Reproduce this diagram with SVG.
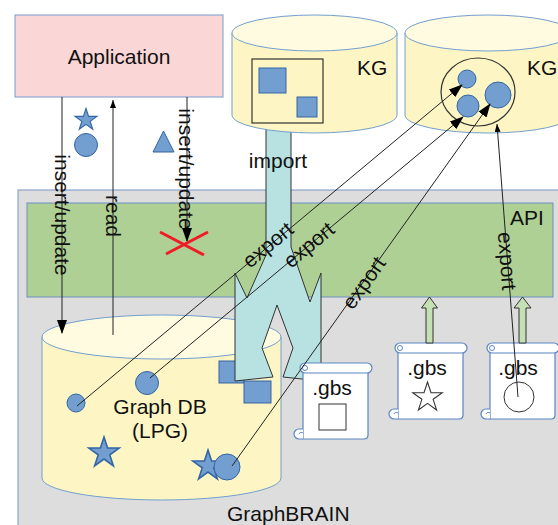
<svg xmlns="http://www.w3.org/2000/svg" width="558" height="525" viewBox="0 0 558 525">
<style>
text{font-family:"Liberation Sans",Arial,sans-serif;font-size:21px;fill:#111}
.blue{fill:#729fcf;stroke:#3465a4;stroke-width:1}
.cylb{fill:#fdf6c4;stroke:#729fcf;stroke-width:1}
.cylt{fill:#fffbe0;stroke:#729fcf;stroke-width:1}
.ln{stroke:#222;stroke-width:1;fill:none}
.scr{fill:#fff;stroke:#5a86c2;stroke-width:1.2}
.garr{fill:#c5e0b4;stroke:#333;stroke-width:1}
.outl{fill:none;stroke:#333;stroke-width:1.2}
</style>
<defs>
<marker id="ah" viewBox="0 0 14 10" markerWidth="14" markerHeight="10" refX="13" refY="5" orient="auto" markerUnits="userSpaceOnUse"><path d="M0,0 L14,5 L0,10 Z" fill="#000"/></marker>
<marker id="ahs" viewBox="0 0 8 6" markerWidth="8" markerHeight="6" refX="8" refY="3" orient="auto" markerUnits="userSpaceOnUse"><path d="M0,0 L8,3 L0,6 Z" fill="#000"/></marker>
<path id="star" d="M0,-10 L2.245,-3.09 L9.51,-3.09 L3.63,1.18 L5.88,8.09 L0,3.82 L-5.88,8.09 L-3.63,1.18 L-9.51,-3.09 L-2.245,-3.09 Z"/>
<g id="scroll">
<path class="scr" d="M10,6 V76 H71 Q75,76 75,72 V8 Z"/>
<rect class="scr" x="7" y="0" width="72" height="10" rx="5"/>
<circle cx="12" cy="5" r="2.5" fill="none" stroke="#5a86c2" stroke-width="1"/>
<path class="scr" d="M10,66 H6 A5,5 0 0 0 6,76 H10"/>
<path d="M6,71 A2.5,2.5 0 0 1 10,70" fill="none" stroke="#5a86c2" stroke-width="1"/>
</g>
</defs>

<g id="graphbrain">
<rect x="18" y="190" width="560" height="350" fill="#dddddd" stroke="#7896c8" stroke-width="1"/>
<text x="227" y="521">GraphBRAIN</text>
</g>

<g id="api">
<rect x="27" y="203" width="526" height="94" fill="#afd095" stroke="#6f8fc4" stroke-width="1"/>
<text x="510" y="225">API</text>
</g>

<g id="application">
<rect x="15" y="15" width="208" height="82" fill="#fad6d6" stroke="#729fcf" stroke-width="1"/>
<text x="119" y="64" text-anchor="middle">Application</text>
</g>

<g id="app-items">
<use href="#star" class="blue" transform="translate(86,120) scale(1.15)" stroke-width="0.9"/>
<circle class="blue" cx="86" cy="145" r="11.5"/>
<path class="blue" d="M153,152 L174,152 L163.5,131 Z"/>
</g>

<g id="graphdb">
<path class="cylb" d="M42,337 V478 A119.5,22 0 0 0 281,478 V337 Z"/>
<ellipse class="cylt" cx="161.5" cy="337" rx="119.5" ry="22"/>
<circle class="blue" cx="76" cy="403" r="9"/>
<circle class="blue" cx="147" cy="383" r="11.5"/>
<use href="#star" class="blue" transform="translate(104,453) scale(1.6)" stroke-width="0.65"/>
<use href="#star" class="blue" transform="translate(208,466) scale(1.6)" stroke-width="0.65"/>
<circle class="blue" cx="227" cy="467" r="13"/>
<rect class="blue" x="219" y="361" width="25" height="22"/>
<rect class="blue" x="244" y="381" width="27" height="22"/>
<text x="160" y="414" text-anchor="middle">Graph DB</text>
<text x="160" y="438" text-anchor="middle">(LPG)</text>
</g>

<g id="import">
<path d="M266,110 V255 L247,298 L235,273 V381 L273,377 L262,348 L277,305 L293,348 L283,377 L321,381 V273 L310,302 L291,247 V110 Z" fill="#b7e2e1" stroke="#333" stroke-width="1"/>
</g>

<g id="kg1">
<path class="cylb" d="M232,33 V115 A82.5,18 0 0 0 397,115 V33 Z"/>
<ellipse class="cylt" cx="314.5" cy="33" rx="82.5" ry="18"/>
<rect class="outl" x="252" y="59" width="71" height="64"/>
<rect class="blue" x="259" y="68" width="27" height="25"/>
<rect class="blue" x="297" y="97" width="20" height="20"/>
<text x="357" y="75">KG</text>
</g>

<g id="kg2">
<path class="cylb" d="M405,33 V115 A83,18 0 0 0 571,115 V33 Z"/>
<ellipse class="cylt" cx="488" cy="33" rx="83" ry="18"/>
<ellipse class="outl" cx="478" cy="92" rx="37" ry="34"/>
<circle class="blue" cx="467" cy="79" r="9"/>
<circle class="blue" cx="468" cy="106" r="11"/>
<circle class="blue" cx="498" cy="95" r="13"/>
<text x="527" y="75">KG</text>
</g>

<g id="gbs1">
<use href="#scroll" x="293" y="363"/>
<text x="332" y="395" text-anchor="middle">.gbs</text>
<rect x="319" y="404" width="27" height="26" fill="#fff" stroke="#333" stroke-width="1"/>
</g>
<g id="gbs2">
<use href="#scroll" x="388" y="343"/>
<text x="427" y="375" text-anchor="middle">.gbs</text>
<use href="#star" transform="translate(427.5,397.5) scale(1.55)" fill="#fff" stroke="#333" stroke-width="0.7"/>
</g>
<g id="gbs3">
<use href="#scroll" x="480" y="343"/>
<text x="518" y="375" text-anchor="middle">.gbs</text>
<circle cx="519" cy="397" r="15" fill="#fff" stroke="#333" stroke-width="1"/>
</g>

<g id="connectors">
<path class="garr" d="M429.5,297 L437.5,308 H433 V343 H426 V308 H421.5 Z"/>
<path class="garr" d="M522.5,297 L531,308 H526 V343 H519 V308 H514 Z"/>
<line class="ln" x1="62" y1="97" x2="62" y2="333" marker-end="url(#ah)"/>
<line class="ln" x1="113" y1="335" x2="113" y2="100" marker-end="url(#ahs)"/>
<line class="ln" x1="187" y1="97" x2="187" y2="241" marker-end="url(#ah)"/>
<line class="ln" x1="77" y1="406" x2="462" y2="85" marker-end="url(#ah)"/>
<line class="ln" x1="150" y1="378" x2="463" y2="117" marker-end="url(#ah)"/>
<line class="ln" x1="232" y1="466" x2="490" y2="104" marker-end="url(#ah)"/>
<line class="ln" x1="518" y1="397" x2="497" y2="124" marker-end="url(#ahs)"/>
<text transform="translate(62,215) rotate(90)" y="7" text-anchor="middle">insert/update</text>
<text transform="translate(113,216) rotate(90)" y="7" text-anchor="middle">read</text>
<text transform="translate(186,169) rotate(90)" y="7" text-anchor="middle">insert/update</text>
<text x="278" y="168" text-anchor="middle">import</text>
<text transform="translate(268,245) rotate(-39.8)" y="7" text-anchor="middle">export</text>
<text transform="translate(309,245) rotate(-39.6)" y="7" text-anchor="middle">export</text>
<text transform="translate(364,283) rotate(-54.6)" y="7" text-anchor="middle">export</text>
<text transform="translate(507,261) rotate(85.6)" y="7" text-anchor="middle">export</text>
</g>

<g id="forbidden">
<line x1="160" y1="232" x2="204" y2="255" stroke="#ee1c25" stroke-width="3"/>
<line x1="166" y1="254" x2="208" y2="232" stroke="#ee1c25" stroke-width="3"/>
</g>
</svg>
